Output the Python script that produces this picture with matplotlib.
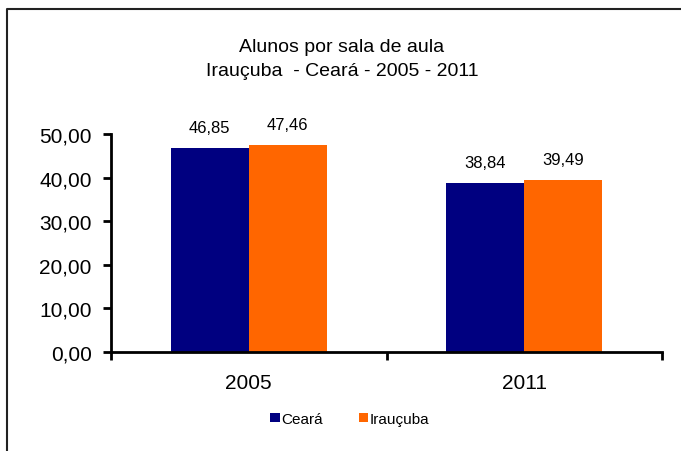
import matplotlib
matplotlib.use("Agg")
import matplotlib.pyplot as plt
from matplotlib.lines import Line2D
import numpy as np

plt.rcParams['font.family'] = ['Liberation Sans', 'DejaVu Sans']

categories = ["2005", "2011"]
series_names = ["Ceará", "Irauçuba"]
ceara = [46.85, 38.84]
iraucuba = [47.46, 39.49]
colors = ["#000080", "#FF6600"]
yticks = [0, 10, 20, 30, 40, 50]
title_lines = ["Alunos por sala de aula", "Irauçuba  - Ceará - 2005 - 2011"]

W, H = 681, 452
fig = plt.figure(figsize=(W / 100, H / 100), dpi=100)
ax = fig.add_axes([111 / W, 1 - 353 / H, (662 - 111) / W, (353 - 135) / H])

x = np.arange(len(categories))
bw = 0.283
for vals, name, col, off in [(ceara, series_names[0], colors[0], -bw / 2),
                             (iraucuba, series_names[1], colors[1], bw / 2)]:
    bars = ax.bar(x + off, vals, width=bw, color=col, label=name, edgecolor='none')
    for b, v in zip(bars, vals):
        ax.annotate(f"{v:.2f}".replace('.', ','),
                    (b.get_x() + b.get_width() / 2, b.get_height()),
                    xytext=(0, 14.5), textcoords='offset points',
                    ha='center', va='center', fontsize=12)

ax.set_xlim(-0.5, len(categories) - 0.5)
ax.set_ylim(0, 50)
ax.set_yticks(yticks)
ax.set_yticklabels([f"{t:.2f}".replace('.', ',') for t in yticks], fontsize=15)
ax.set_xticks(x)
ax.set_xticklabels(categories, fontsize=15)
ax.set_xticks(np.arange(-0.5, len(categories)), minor=True)
ax.tick_params(axis='x', which='major', length=0, pad=15)
ax.tick_params(axis='x', which='minor', length=6, width=2, direction='out')
ax.tick_params(axis='y', length=6, width=2, direction='out', pad=8)
for s in ['top', 'right']:
    ax.spines[s].set_visible(False)
for s in ['left', 'bottom']:
    ax.spines[s].set_linewidth(2)

fig.text(342 / W, 1 - 48 / H, title_lines[0], ha='center', va='center', fontsize=14)
fig.text(342 / W, 1 - 72 / H, title_lines[1], ha='center', va='center', fontsize=14)

fig.legend(loc='center', bbox_to_anchor=(350 / W, 1 - 420 / H), ncol=2,
           frameon=False, fontsize=11, handlelength=0.6, handleheight=0.6,
           handletextpad=0.1, columnspacing=2.4)

fig.add_artist(Line2D([7 / W, 7 / W, 1.0], [0.0, 1 - 10 / H, 1 - 10 / H],
                      transform=fig.transFigure, color='#222222', lw=1.5))

fig.savefig("out.png", dpi=100)
